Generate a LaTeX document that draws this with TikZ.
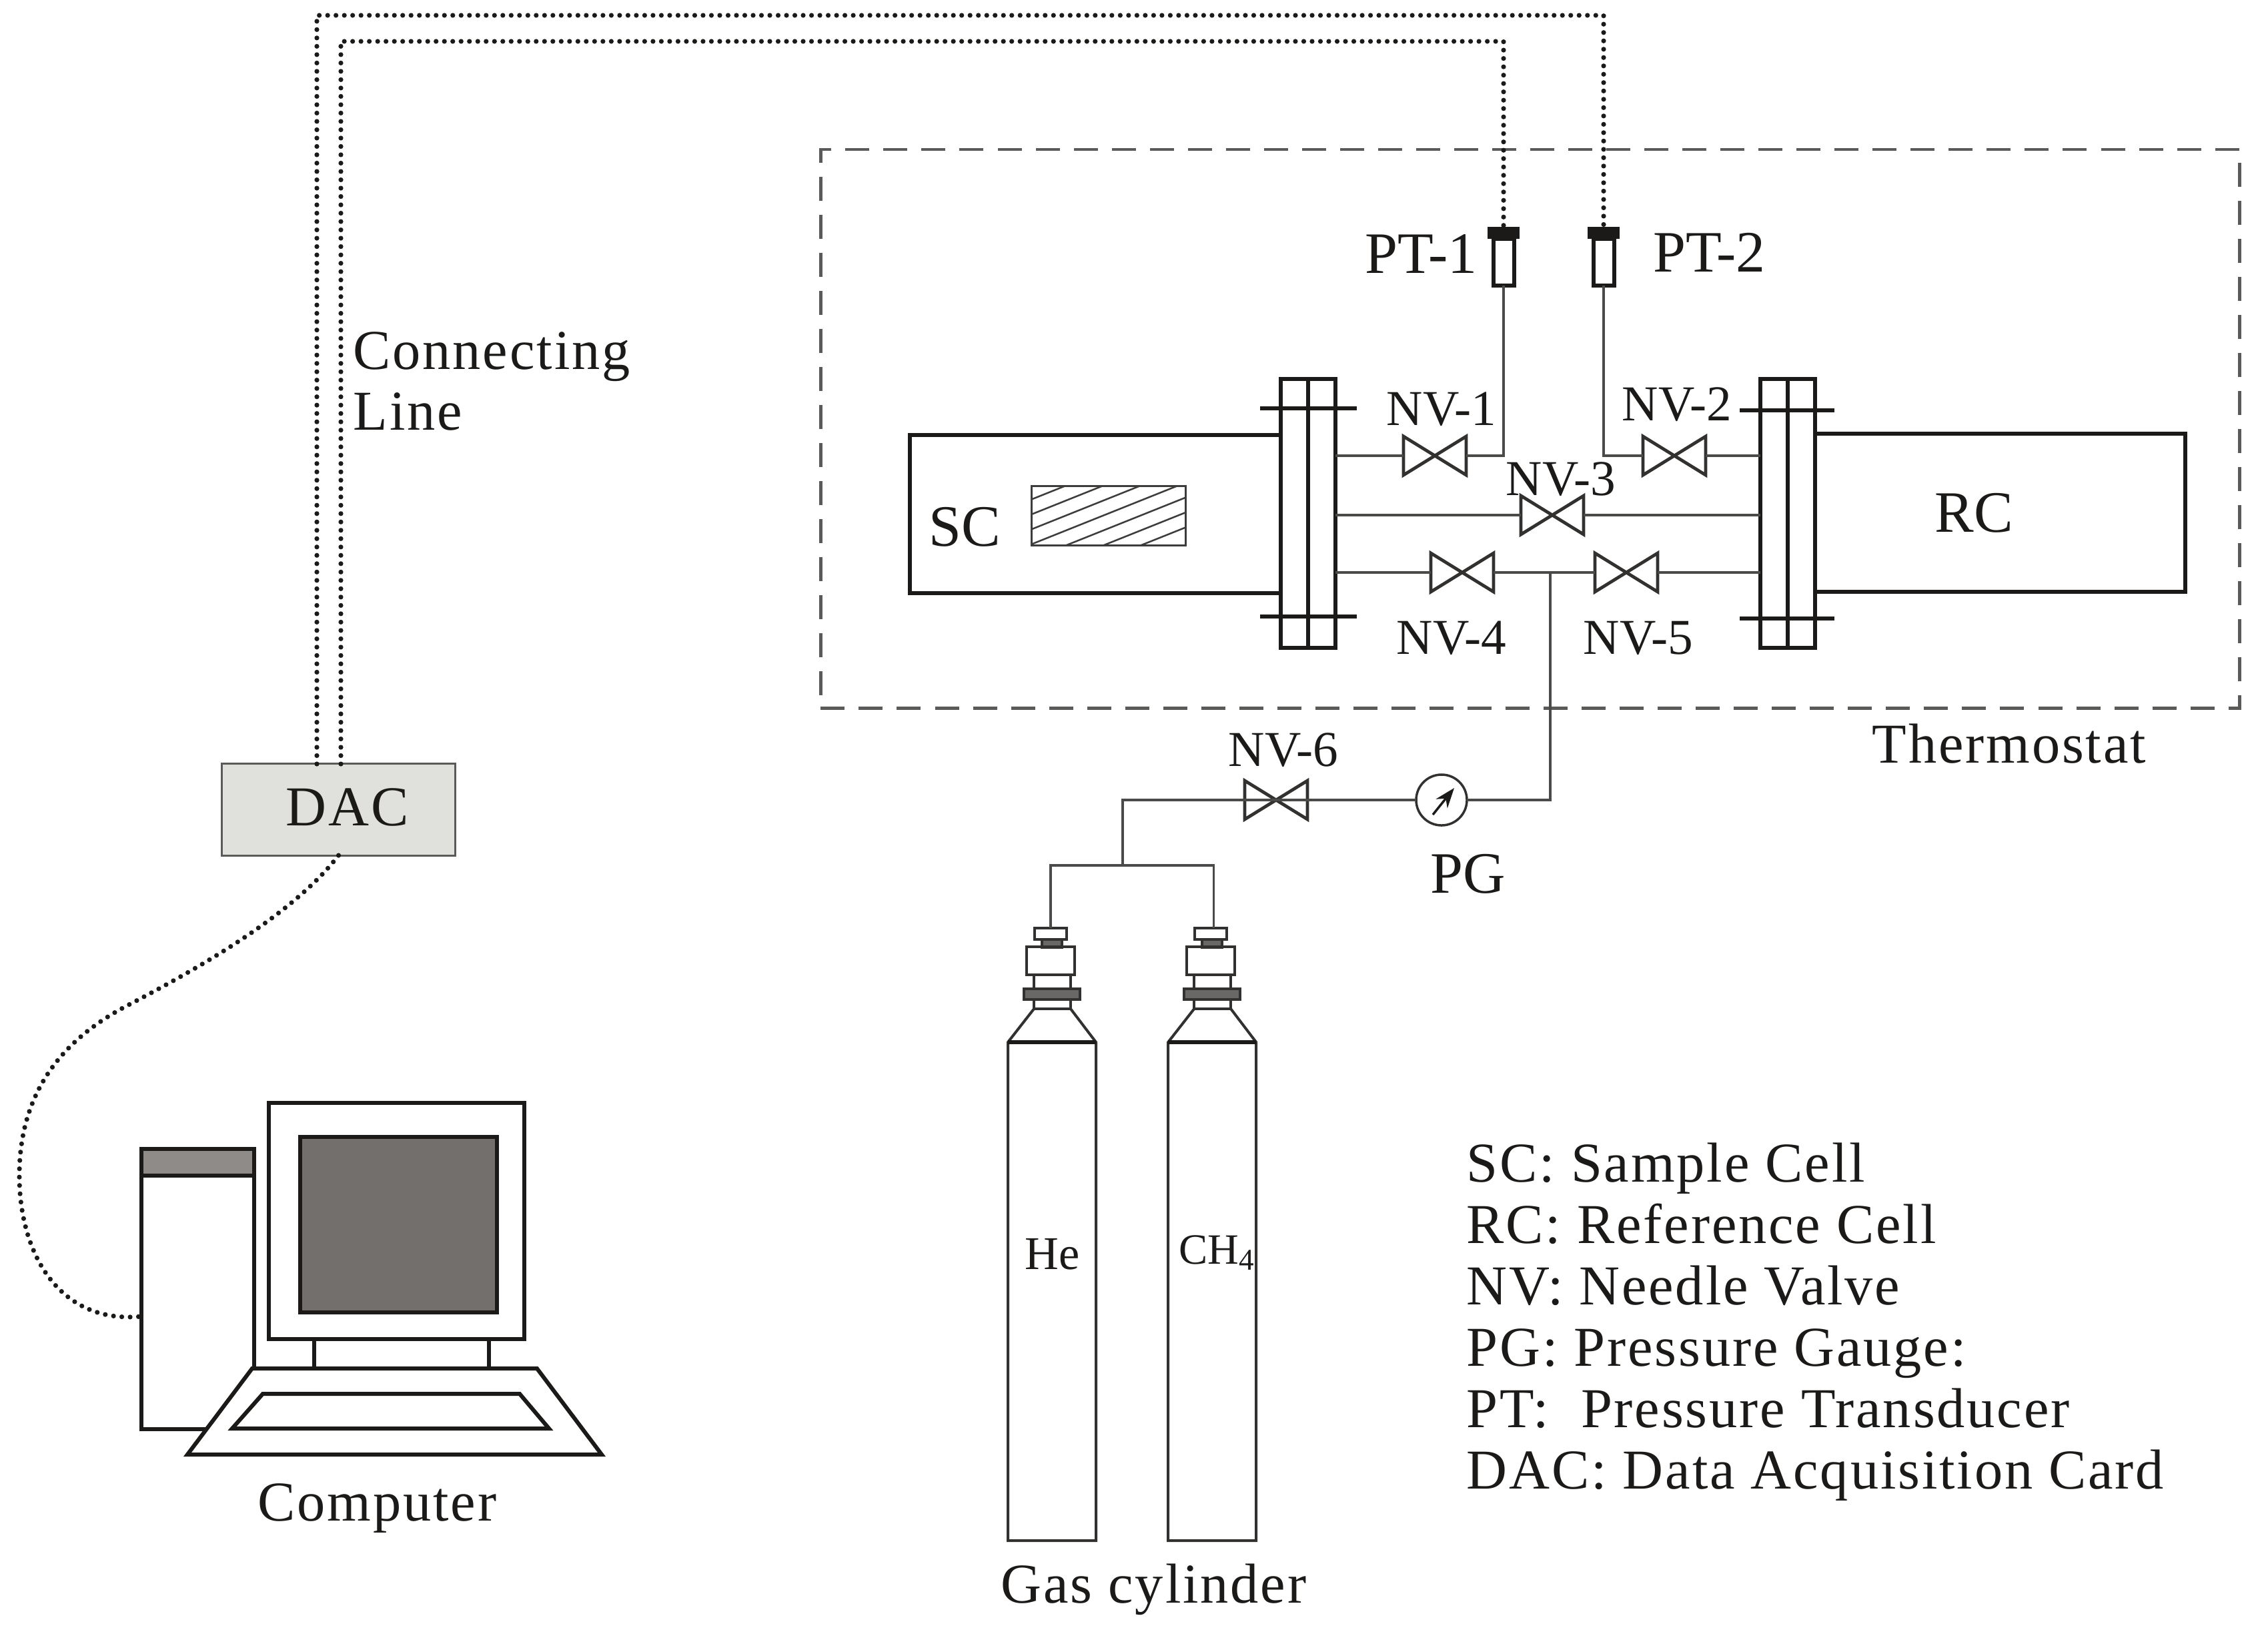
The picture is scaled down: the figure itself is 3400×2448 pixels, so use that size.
\documentclass[tikz,border=0pt]{standalone}
\usepackage{fontspec}
\setmainfont{Liberation Serif}
\newfontfamily\spacedfont[LetterSpace=3.4]{Liberation Serif}
\usetikzlibrary{arrows.meta,calc}
\definecolor{ink}{HTML}{1C1A18}
\definecolor{pipegray}{HTML}{4A4A48}
\definecolor{dashgray}{HTML}{5A5A58}
\definecolor{dacfill}{HTML}{E0E0DC}
\definecolor{screen}{HTML}{736F6C}
\definecolor{bandgray}{HTML}{8F8B88}
\definecolor{ringgray}{HTML}{6A6866}
\tikzset{
  x=0.01cm,y=-0.01cm,
  thick line/.style={draw=ink,line width=0.06cm},
  pipe/.style={draw=pipegray,line width=0.033cm},
  dotline/.style={draw=ink,line width=0.072cm,line cap=round,dash pattern=on 0pt off 0.125cm},
  valvebox/.style={minimum width=0.94cm,minimum height=0.58cm,inner sep=0pt,outer sep=0pt},
  valveline/.style={draw=ink!90,line width=0.048cm,line join=miter},
  flange/.style={draw=ink,line width=0.06cm,minimum width=0.82cm,minimum height=4.03cm,inner sep=0pt,outer sep=0pt},
  small/.style={text=ink,inner sep=0pt,anchor=base west,font=\fontsize{21.4pt}{25pt}\selectfont},
  gaslabel/.style={text=ink,inner sep=0pt,anchor=base west,font=\fontsize{20pt}{24pt}\selectfont},
  mid/.style={text=ink,inner sep=0pt,anchor=base west,font=\fontsize{25pt}{30pt}\selectfont},
  wide/.style={text=ink,inner sep=0pt,anchor=base west,font=\spacedfont\fontsize{24pt}{28pt}\selectfont},
  sensor/.style={draw=ink,line width=0.06cm,minimum width=0.31cm,minimum height=0.69cm,inner sep=0pt,outer sep=0pt},
  sensorcap/.style={fill=ink,minimum width=0.48cm,minimum height=0.18cm,inner sep=0pt,outer sep=0pt},
  cylline/.style={draw=ink!90,line width=0.04cm},
}
\newcommand{\valve}[2]{%
  \node[valvebox] (#1) at (#2) {};
  \draw[valveline] (#1.north west) -- (#1.south east) -- (#1.north east) -- (#1.south west) -- cycle;
}
\newcommand{\cylinder}[2]{%
  \begin{scope}[xshift=#2cm]
    \node[draw=ink!90,line width=0.04cm,minimum width=0.48cm,minimum height=0.17cm,inner sep=0pt,outer sep=0pt] (#1) at (1575,1399.5) {};
    \draw[cylline,fill=ringgray] (1562,1408) rectangle (1592,1420);
    \draw[cylline] (1539,1419) rectangle (1611,1461);
    \draw[cylline] (1550,1461) rectangle (1605,1482);
    \draw[cylline,fill=ringgray] (1535,1482) rectangle (1619,1498);
    \draw[cylline] (1550,1498) rectangle (1605,1512);
    \draw[cylline] (1550,1512) -- (1511,1562) -- (1511,2309) -- (1643,2309) -- (1643,1562) -- (1605,1512);
    \draw[draw=ink,line width=0.055cm] (1511,1562) -- (1643,1562);
  \end{scope}
}
\begin{document}
\begin{tikzpicture}
\useasboundingbox (0,0) rectangle (3400,2448);
\fill[white] (0,0) rectangle (3400,2448);

% thermostat
\node[draw=dashgray,line width=0.045cm,dash pattern=on 0.36cm off 0.21cm,minimum width=21.26cm,minimum height=8.37cm,inner sep=0pt] (thermo) at (2294,642.5) {};

% cells
\node[thick line,minimum width=5.56cm,minimum height=2.37cm,inner sep=0pt,outer sep=0pt] (sc) at (1642,770.5) {};
\node[thick line,minimum width=5.56cm,minimum height=2.37cm,inner sep=0pt,outer sep=0pt] (rc) at (2998,768.5) {};
\node[mid] (sctext) at (1392,818) {SC};
\node[mid] (rctext) at (2900,797) {RC};

% sample hatch
\begin{scope}
  \clip (1547,729) rectangle (1777,817);
  \foreach \k in {0,1,...,6}
    \draw[ink!85,line width=0.025cm] ({1595+\k*56-300},{729+120}) -- ++(600,-240);
\end{scope}
\node[draw=ink!85,line width=0.03cm,minimum width=2.3cm,minimum height=0.88cm,inner sep=0pt,outer sep=0pt] (sample) at (1662,773) {};

% flanges
\node[flange,fill=white] (fl) at (1961,769.5) {};
\node[flange,fill=white] (fr) at (2680,769.5) {};
\draw[thick line] (fl.north) -- (fl.south);
\draw[thick line] (fr.north) -- (fr.south);
\draw[thick line] (1889,612) -- (2034,612);
\draw[thick line] (1889,924) -- (2034,924);
\draw[thick line] (2608,615) -- (2750,615);
\draw[thick line] (2608,927) -- (2750,927);

% sensors
\node[sensor] (pt1) at (2254,393) {};
\node[sensor] (pt2) at (2404,393) {};
\node[sensorcap] (pt1cap) at (2254,349) {};
\node[sensorcap] (pt2cap) at (2404,349) {};
\node[mid] (pt1text) at (2046,409) {PT-1};
\node[mid] (pt2text) at (2478,407) {PT-2};

% valves
\valve{v1}{2151,683}
\valve{v2}{2510,683}
\valve{v3}{2327,772}
\valve{v4}{2192,858}
\valve{v5}{2438,858}
\valve{v6}{1913,1199}
\node[small] (nv1) at (2078,637) {NV-1};
\node[small] (nv2) at (2431,630) {NV-2};
\node[small] (nv3) at (2257,742) {NV-3};
\node[small] (nv4) at (2093,980) {NV-4};
\node[small] (nv5) at (2373,980) {NV-5};
\node[small] (nv6) at (1841,1148) {NV-6};

% pipes
\draw[pipe] (fl.east |- v1) -- (v1.west);
\draw[pipe] (v1.east) -| (pt1.south);
\draw[pipe] (pt2.south) |- (v2.west);
\draw[pipe] (v2.east) -- (fr.west |- v2);
\draw[pipe,line width=0.04cm] (fl.east |- v3) -- (v3.west);
\draw[pipe,line width=0.04cm] (v3.east) -- (fr.west |- v3);
\draw[pipe] (fl.east |- v4) -- (v4.west);
\draw[pipe] (v4.east) -- (v5.west);
\draw[pipe] (v5.east) -- (fr.west |- v5);

% gauge
\node[draw=ink!90,fill=white,line width=0.035cm,circle,minimum size=0.76cm,inner sep=0pt,outer sep=0pt] (pg) at (2161,1199) {};
\draw[ink,line width=0.035cm,-{Stealth[length=0.3cm,width=0.22cm]}] (2148,1221) -- (2180,1181);
\node[mid] (pgtext) at (2144,1338) {PG};
\coordinate (tee) at (2324,858);
\coordinate (branch) at (1683,1297);
\draw[pipe] (tee) |- (pg.east);
\draw[pipe] (pg.west) -- (branch |- pg) -- (branch);

% cylinders
\cylinder{capA}{0}
\cylinder{capB}{2.4}
\draw[pipe] (capA.north) |- (branch) -| ([xshift=0.04cm]capB.north);
\node[gaslabel] (he) at (1536,1902) {He};
\node[gaslabel,font=\fontsize{18.4pt}{22pt}\selectfont] (ch) at (1767,1894) {CH\textsubscript{4}};
\node[wide] (gas) at (1500,2402) {Gas cylinder};

% DAC
\node[draw=dashgray,fill=dacfill,line width=0.03cm,minimum width=3.49cm,minimum height=1.37cm,inner sep=0pt,outer sep=0pt] (dac) at (507.5,1213.5) {};
\node[wide] (dactext) at (428,1237) {DAC};
\coordinate (dacL) at (475,1145);
\coordinate (dacR) at (511,1145);
\draw[dotline] (dacL) -- (475,23) -- (2404,23) -- (pt2cap.north);
\draw[dotline] (dacR) -- (511,62) -- (2254,62) -- (pt1cap.north);
\node[wide] (conn) at (529,553) {Connecting};
\node[wide] (line) at (529,644) {Line};
\node[wide] (thermotext) at (2806,1143) {Thermostat};

% computer
\node[thick line,fill=white,minimum width=1.69cm,minimum height=4.2cm,inner sep=0pt,outer sep=0pt] (tower) at (296.5,1932) {};
\draw[thick line,fill=bandgray] (212,1722) rectangle (381,1762);
\node[thick line,fill=white,minimum width=3.83cm,minimum height=3.54cm,inner sep=0pt,outer sep=0pt] (monitor) at (594.5,1830) {};
\node[thick line,fill=screen,minimum width=2.95cm,minimum height=2.63cm,inner sep=0pt,outer sep=0pt] (scr) at (597.5,1835.5) {};
\draw[thick line] (471,2007) -- (471,2051);
\draw[thick line] (733,2007) -- (733,2051);
\draw[thick line,fill=white] (378,2051) -- (805,2051) -- (902,2180) -- (281,2180) -- cycle;
\draw[thick line] (394,2089) -- (779,2089) -- (823,2141) -- (348,2141) -- cycle;
\node[wide] (comp) at (386,2279) {Computer};
\draw[dotline] (dac.south) .. controls (440,1370) and (300,1450) .. (191,1507)
  .. controls (90,1560) and (29,1640) .. (29,1762)
  .. controls (29,1880) and (90,1985) .. (tower.west |- 0,1973);

% legend
\node[wide] (l1) at (2198,1771) {SC: Sample Cell};
\node[wide] (l2) at (2198,1863) {RC: Reference Cell};
\node[wide] (l3) at (2198,1955) {NV: Needle Valve};
\node[wide] (l4) at (2198,2047) {PG: Pressure Gauge:};
\node[wide] (l5) at (2198,2139) {PT:~ Pressure Transducer};
\node[wide] (l6) at (2198,2231) {DAC: Data Acquisition Card};
\end{tikzpicture}
\end{document}
